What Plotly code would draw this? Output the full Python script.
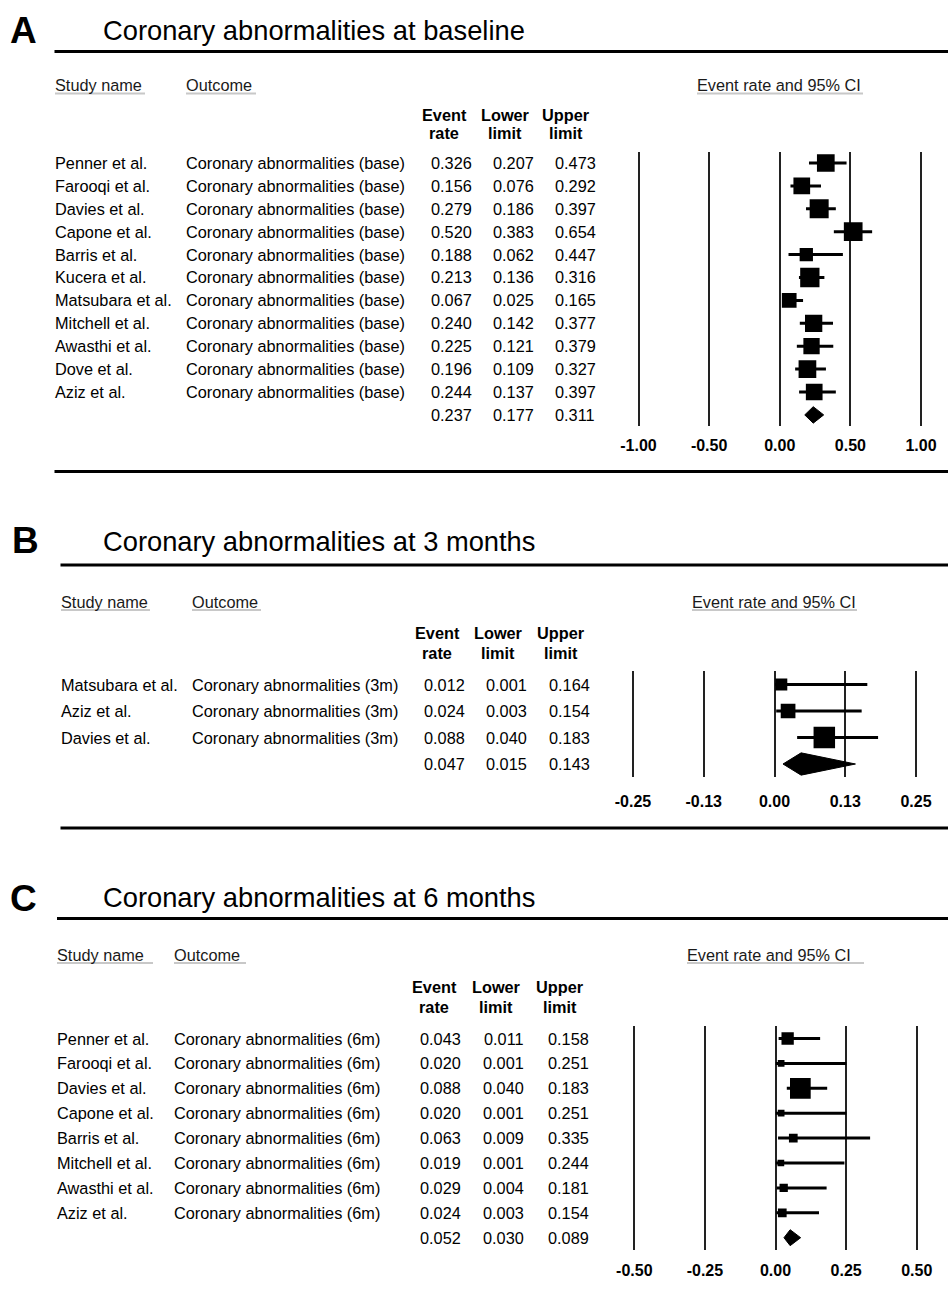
import plotly.graph_objects as go

# ---------------- data ----------------
A_STUDY = ["Penner et al.", "Farooqi et al.", "Davies et al.", "Capone et al.", "Barris et al.",
           "Kucera et al.", "Matsubara et al.", "Mitchell et al.", "Awasthi et al.", "Dove et al.", "Aziz et al."]
A_OUTCOME = "Coronary abnormalities (base)"
A_RATE = [0.326, 0.156, 0.279, 0.520, 0.188, 0.213, 0.067, 0.240, 0.225, 0.196, 0.244]
A_LOWER = [0.207, 0.076, 0.186, 0.383, 0.062, 0.136, 0.025, 0.142, 0.121, 0.109, 0.137]
A_UPPER = [0.473, 0.292, 0.397, 0.654, 0.447, 0.316, 0.165, 0.377, 0.379, 0.327, 0.397]
A_WEIGHT = [17.7, 16.7, 19.0, 18.7, 13.3, 19.3, 14.7, 17.3, 16.3, 17.7, 16.7]
A_SUMMARY = [0.237, 0.177, 0.311]
A_TICKVALS = [-1.0, -0.5, 0.0, 0.5, 1.0]
A_TICKTEXT = ["-1.00", "-0.50", "0.00", "0.50", "1.00"]

B_STUDY = ["Matsubara et al.", "Aziz et al.", "Davies et al."]
B_OUTCOME = "Coronary abnormalities (3m)"
B_RATE = [0.012, 0.024, 0.088]
B_LOWER = [0.001, 0.003, 0.040]
B_UPPER = [0.164, 0.154, 0.183]
B_WEIGHT = [12.0, 14.7, 21.5]
B_SUMMARY = [0.047, 0.015, 0.143]
B_TICKVALS = [-0.25, -0.125, 0.0, 0.125, 0.25]
B_TICKTEXT = ["-0.25", "-0.13", "0.00", "0.13", "0.25"]

C_STUDY = ["Penner et al.", "Farooqi et al.", "Davies et al.", "Capone et al.", "Barris et al.",
           "Mitchell et al.", "Awasthi et al.", "Aziz et al."]
C_OUTCOME = "Coronary abnormalities (6m)"
C_RATE = [0.043, 0.020, 0.088, 0.020, 0.063, 0.019, 0.029, 0.024]
C_LOWER = [0.011, 0.001, 0.040, 0.001, 0.009, 0.001, 0.004, 0.003]
C_UPPER = [0.158, 0.251, 0.183, 0.251, 0.335, 0.244, 0.181, 0.154]
C_WEIGHT = [12.3, 6.7, 20.7, 6.7, 8.7, 6.7, 8.3, 8.7]
C_SUMMARY = [0.052, 0.030, 0.089]
C_TICKVALS = [-0.5, -0.25, 0.0, 0.25, 0.5]
C_TICKTEXT = ["-0.50", "-0.25", "0.00", "0.25", "0.50"]

TITLES = ["Coronary abnormalities at baseline", "Coronary abnormalities at 3 months",
          "Coronary abnormalities at 6 months"]
LETTERS = ["A", "B", "C"]

# ---------------- layout (pixel positions) ----------------
W, H = 948, 1297
FONT = "Liberation Sans, Arial, sans-serif"


def px(x):
    return x / W


def py(y):
    return 1 - y / H


panels = [
    dict(study=A_STUDY, outcome=A_OUTCOME, rate=A_RATE, lower=A_LOWER, upper=A_UPPER, weight=A_WEIGHT,
         summary=A_SUMMARY, tickvals=A_TICKVALS, ticktext=A_TICKTEXT,
         letter_x=8, letter_y=31, title_y=31, line_y=51.5, line_x0=54.5, bottom_line_y=471.5,
         head_y=85, ul_y=93.5, name_x=55, outcome_x=186, ci_x=697,
         ul=[(55, 145), (186, 256), (697, 863)],
         col_y=(115, 133), col_x=(444, 505, 566), val_x=(451, 513, 575),
         row0=163, dy=22.9, zero=779.75, unit=141.25, ticklen=4, dh=0.36),
    dict(study=B_STUDY, outcome=B_OUTCOME, rate=B_RATE, lower=B_LOWER, upper=B_UPPER, weight=B_WEIGHT,
         summary=B_SUMMARY, tickvals=B_TICKVALS, ticktext=B_TICKTEXT,
         letter_x=10, letter_y=540, title_y=541, line_y=565, line_x0=60.5, bottom_line_y=828,
         head_y=602, ul_y=610, name_x=61, outcome_x=192, ci_x=692,
         ul=[(61, 150), (192, 261), (692, 857)],
         col_y=(633, 653), col_x=(437, 498, 561), val_x=(444, 507, 569),
         row0=684.5, dy=26.5, zero=774.5, unit=566.0, ticklen=10, dh=0.42),
    dict(study=C_STUDY, outcome=C_OUTCOME, rate=C_RATE, lower=C_LOWER, upper=C_UPPER, weight=C_WEIGHT,
         summary=C_SUMMARY, tickvals=C_TICKVALS, ticktext=C_TICKTEXT,
         letter_x=8, letter_y=898, title_y=897, line_y=918.5, line_x0=57, bottom_line_y=None,
         head_y=955, ul_y=963, name_x=57, outcome_x=174, ci_x=687,
         ul=[(57, 153), (174, 246), (687, 864)],
         col_y=(987, 1007), col_x=(434, 496, 560), val_x=(440, 504, 568),
         row0=1038.5, dy=24.9, zero=775.5, unit=282.4, ticklen=6, dh=0.32),
]

fig = go.Figure()
annotations = []
shapes = []
X_LEFT, X_RIGHT = 610, 945
TXT = 16.3

for k, p in enumerate(panels):
    sfx = "" if k == 0 else str(k + 1)
    xa, ya = "x" + sfx, "y" + sfx
    n = len(p["study"])
    rows = list(range(n))

    # axes
    top_px = p["row0"] - 0.5 * p["dy"]
    bot_px = p["row0"] + (n + 0.5) * p["dy"]
    fig.layout["xaxis" + sfx] = dict(
        domain=[px(X_LEFT), px(X_RIGHT)],
        range=[(X_LEFT - p["zero"]) / p["unit"], (X_RIGHT - p["zero"]) / p["unit"]],
        tickvals=p["tickvals"], ticktext=["<b>%s</b>" % t for t in p["ticktext"]],
        showgrid=True, gridcolor="#222222", gridwidth=2, zeroline=False, showline=False,
        ticks="outside", ticklen=p["ticklen"], tickcolor="rgba(0,0,0,0)",
        tickfont=dict(family=FONT, size=16, color="black"), anchor=ya, fixedrange=True)
    fig.layout["yaxis" + sfx] = dict(
        domain=[py(bot_px), py(top_px)], range=[n + 0.5, -0.5], visible=False,
        showgrid=False, zeroline=False, anchor=xa, fixedrange=True)

    # study markers with CI
    fig.add_trace(go.Scatter(
        x=p["rate"], y=rows, xaxis=xa, yaxis=ya, mode="markers",
        marker=dict(symbol="square", size=p["weight"], color="black", opacity=1, line=dict(width=0)),
        error_x=dict(type="data", symmetric=False,
                     array=[u - r for u, r in zip(p["upper"], p["rate"])],
                     arrayminus=[r - l for r, l in zip(p["rate"], p["lower"])],
                     width=0, thickness=3, color="black"),
        showlegend=False, hoverinfo="skip"))

    # summary diamond
    est, lo, hi = p["summary"]
    fig.add_trace(go.Scatter(
        x=[lo, est, hi, est, lo], y=[n, n - p["dh"], n, n + p["dh"], n],
        xaxis=xa, yaxis=ya, mode="lines", fill="toself", fillcolor="black",
        line=dict(color="black", width=1), showlegend=False, hoverinfo="skip"))

    # letter + title
    annotations.append(dict(text="<b>%s</b>" % LETTERS[k], x=px(p["letter_x"]), y=py(p["letter_y"]),
                            xref="paper", yref="paper", xanchor="left", yanchor="middle",
                            showarrow=False, font=dict(family=FONT, size=37, color="black")))
    annotations.append(dict(text=TITLES[k], x=px(101), y=py(p["title_y"]),
                            xref="paper", yref="paper", xanchor="left", yanchor="middle",
                            showarrow=False, font=dict(family=FONT, size=27.3, color="black")))

    # thick rules
    shapes.append(dict(type="line", xref="paper", yref="paper", x0=px(p["line_x0"]), x1=1,
                       y0=py(p["line_y"]), y1=py(p["line_y"]), line=dict(color="black", width=3)))
    if p["bottom_line_y"] is not None:
        shapes.append(dict(type="line", xref="paper", yref="paper", x0=px(p["line_x0"]), x1=1,
                           y0=py(p["bottom_line_y"]), y1=py(p["bottom_line_y"]),
                           line=dict(color="black", width=3)))

    # column headers
    for txt, x in zip(["Study name", "Outcome", "Event rate and 95% CI"],
                      [p["name_x"], p["outcome_x"], p["ci_x"]]):
        annotations.append(dict(text=txt, x=px(x - 2), y=py(p["head_y"]), xref="paper", yref="paper",
                                xanchor="left", yanchor="middle", showarrow=False,
                                font=dict(family=FONT, size=TXT, color="#1a1a1a")))
    for x0, x1 in p["ul"]:
        shapes.append(dict(type="line", xref="paper", yref="paper", x0=px(x0), x1=px(x1),
                           y0=py(p["ul_y"]), y1=py(p["ul_y"]), line=dict(color="#c8c8c8", width=2)))
    for (l1, l2), x in zip([("Event", "rate"), ("Lower", "limit"), ("Upper", "limit")], p["col_x"]):
        for txt, yy in zip([l1, l2], p["col_y"]):
            annotations.append(dict(text="<b>%s</b>" % txt, x=px(x), y=py(yy), xref="paper", yref="paper",
                                    xanchor="center", yanchor="middle", showarrow=False,
                                    font=dict(family=FONT, size=TXT, color="black")))

    # rows of text
    for i in rows:
        annotations.append(dict(text=p["study"][i], x=px(p["name_x"] - 2), y=i, xref="paper", yref=ya,
                                xanchor="left", yanchor="middle", showarrow=False,
                                font=dict(family=FONT, size=TXT, color="black")))
        annotations.append(dict(text=p["outcome"], x=px(p["outcome_x"] - 2), y=i, xref="paper", yref=ya,
                                xanchor="left", yanchor="middle", showarrow=False,
                                font=dict(family=FONT, size=TXT, color="black")))
        for v, x in zip([p["rate"][i], p["lower"][i], p["upper"][i]], p["val_x"]):
            annotations.append(dict(text="%.3f" % v, x=px(x), y=i, xref="paper", yref=ya,
                                    xanchor="center", yanchor="middle", showarrow=False,
                                    font=dict(family=FONT, size=TXT, color="black")))
    for v, x in zip([est, lo, hi], p["val_x"]):
        annotations.append(dict(text="%.3f" % v, x=px(x), y=n, xref="paper", yref=ya,
                                xanchor="center", yanchor="middle", showarrow=False,
                                font=dict(family=FONT, size=TXT, color="black")))

fig.update_layout(width=W, height=H, margin=dict(l=0, r=0, t=0, b=0, pad=0),
                  paper_bgcolor="white", plot_bgcolor="white", showlegend=False,
                  annotations=annotations, shapes=shapes, font=dict(family=FONT, color="black"))

fig.write_html("out.html")
